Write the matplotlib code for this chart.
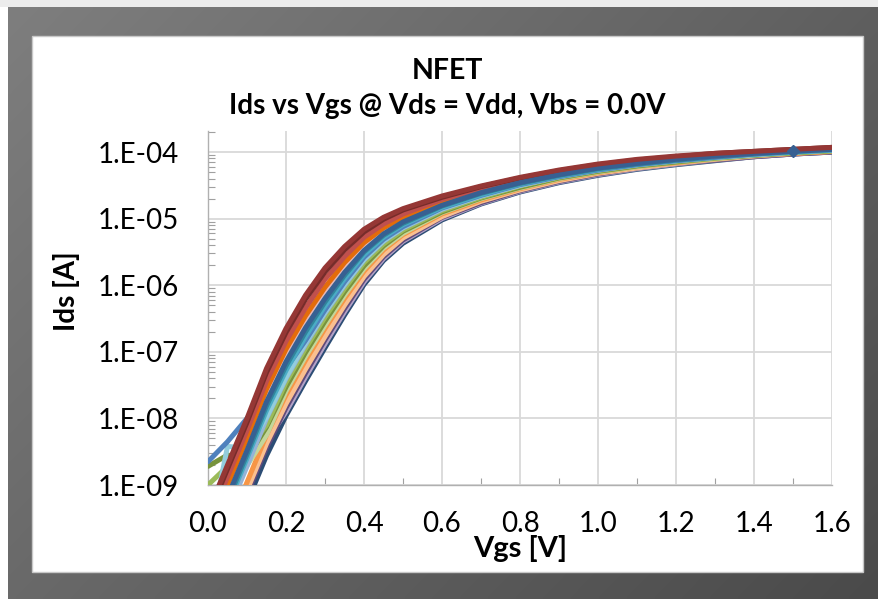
import numpy as np
import matplotlib
matplotlib.use("Agg")
import matplotlib.pyplot as plt
from matplotlib.ticker import LogLocator, FuncFormatter, MultipleLocator, NullFormatter
from matplotlib.patches import Rectangle
from matplotlib.colors import to_rgb

plt.rcParams['font.family'] = ['Lato', 'DejaVu Sans']

# ---------------- data (log10 of Ids [A]) ----------------
vgs = [0.0, 0.05, 0.1, 0.15, 0.2, 0.25, 0.3, 0.35, 0.4, 0.45, 0.5,
       0.6, 0.7, 0.8, 0.9, 1.0, 1.1, 1.2, 1.3, 1.4, 1.5, 1.6]

log_ids_darkblue = [-10.66, -9.96, -9.26, -8.56, -7.96, -7.44, -6.94, -6.45, -5.99, -5.63, -5.37,
                    -5.02, -4.78, -4.60, -4.46, -4.35, -4.26, -4.19, -4.13, -4.07, -4.03, -4.00]
log_ids_lavender = [-10.6, -9.6, -8.98, -8.35, -7.90, -7.38, -6.88, -6.40, -5.95, -5.60, -5.34,
                    -5.00, -4.77, -4.59, -4.45, -4.34, -4.25, -4.18, -4.12, -4.07, -4.03, -4.00]
log_ids_darkpurple = [-10.54, -9.84, -9.14, -8.44, -7.84, -7.32, -6.82, -6.35, -5.91, -5.57, -5.32,
                      -4.98, -4.76, -4.58, -4.44, -4.33, -4.24, -4.17, -4.12, -4.07, -4.03, -4.00]
log_ids_salmon = [-10.48, -9.78, -9.08, -8.38, -7.78, -7.26, -6.77, -6.30, -5.87, -5.54, -5.29,
                  -4.97, -4.74, -4.57, -4.43, -4.32, -4.24, -4.17, -4.11, -4.06, -4.02, -3.99]
log_ids_orange = [-10.36, -9.66, -8.96, -8.25, -7.65, -7.13, -6.65, -6.20, -5.79, -5.47, -5.24,
                  -4.93, -4.72, -4.55, -4.41, -4.31, -4.22, -4.16, -4.10, -4.05, -4.02, -3.99]
log_ids_lightgreen = [-9.6, -8.71, -8.71, -8.25, -7.59, -7.07, -6.60, -6.15, -5.75, -5.44, -5.22,
                      -4.91, -4.70, -4.54, -4.40, -4.30, -4.22, -4.15, -4.10, -4.05, -4.01, -3.98]
log_ids_olive = [-8.72, -8.55, -8.60, -8.13, -7.53, -7.01, -6.54, -6.10, -5.71, -5.41, -5.19,
                 -4.90, -4.69, -4.53, -4.39, -4.29, -4.21, -4.15, -4.09, -4.05, -4.01, -3.98]
log_ids_green = [-9.00, -8.72, -8.50, -8.10, -7.46, -6.95, -6.48, -6.05, -5.66, -5.38, -5.17,
                 -4.88, -4.68, -4.51, -4.38, -4.28, -4.20, -4.14, -4.09, -4.04, -4.01, -3.98]
log_ids_lightblue = [-10.12, -9.42, -8.72, -8.00, -7.40, -6.89, -6.42, -6.00, -5.62, -5.34, -5.14,
                     -4.86, -4.66, -4.50, -4.37, -4.27, -4.19, -4.13, -4.08, -4.04, -4.00, -3.97]
log_ids_lightaqua = [-9.9, -8.42, -8.45, -7.98, -7.38, -6.86, -6.40, -5.98, -5.61, -5.33, -5.13,
                     -4.85, -4.66, -4.50, -4.37, -4.27, -4.19, -4.13, -4.08, -4.04, -4.00, -3.97]
log_ids_blue = [-8.65, -8.35, -8.00, -7.62, -7.25, -6.83, -6.37, -5.95, -5.58, -5.31, -5.12,
                -4.84, -4.65, -4.49, -4.37, -4.27, -4.19, -4.13, -4.08, -4.03, -4.00, -3.97]
log_ids_aqua = [-10.0, -9.30, -8.60, -7.88, -7.28, -6.77, -6.31, -5.90, -5.54, -5.28, -5.09,
                -4.83, -4.64, -4.48, -4.36, -4.26, -4.18, -4.12, -4.07, -4.03, -4.00, -3.97]
log_ids_teal = [-9.94, -9.24, -8.54, -7.81, -7.21, -6.70, -6.25, -5.85, -5.50, -5.25, -5.07,
                -4.81, -4.62, -4.47, -4.35, -4.25, -4.18, -4.12, -4.07, -4.03, -3.99, -3.96]
log_ids_purple = [-9.82, -9.12, -8.42, -7.69, -7.09, -6.58, -6.14, -5.76, -5.44, -5.20, -5.03,
                  -4.78, -4.60, -4.45, -4.33, -4.23, -4.16, -4.10, -4.06, -4.02, -3.98, -3.95]
log_ids_pink = [-9.76, -9.06, -8.36, -7.63, -7.03, -6.52, -6.08, -5.71, -5.40, -5.17, -5.00,
                -4.77, -4.59, -4.44, -4.32, -4.22, -4.15, -4.10, -4.05, -4.01, -3.98, -3.95]
log_ids_darkorange = [-9.70, -9.00, -8.30, -7.56, -6.96, -6.46, -6.03, -5.66, -5.36, -5.14, -4.98,
                      -4.75, -4.57, -4.43, -4.31, -4.21, -4.14, -4.09, -4.05, -4.01, -3.98, -3.95]
log_ids_red = [-9.58, -8.88, -8.18, -7.44, -6.84, -6.34, -5.91, -5.57, -5.28, -5.08, -4.93,
               -4.71, -4.55, -4.41, -4.29, -4.20, -4.13, -4.08, -4.04, -4.00, -3.97, -3.94]
log_ids_maroon = [-9.46, -8.76, -8.06, -7.31, -6.71, -6.21, -5.80, -5.47, -5.20, -5.01, -4.87,
                  -4.68, -4.52, -4.39, -4.28, -4.19, -4.12, -4.07, -4.02, -3.99, -3.96, -3.93]
log_ids_midblue = [-9.88, -9.18, -8.48, -7.75, -7.15, -6.64, -6.20, -5.81, -5.48, -5.23, -5.05,
                   -4.80, -4.61, -4.46, -4.34, -4.24, -4.17, -4.11, -4.06, -4.02, -3.99, -3.96]
log_ids_darkred = [-9.40, -8.70, -8.00, -7.25, -6.65, -6.15, -5.74, -5.42, -5.16, -4.98, -4.85,
                   -4.66, -4.51, -4.38, -4.27, -4.18, -4.11, -4.06, -4.02, -3.99, -3.96, -3.93]

series = [
    (log_ids_darkblue, '#2C4D75'),
    (log_ids_lavender, '#B3A2C7'),
    (log_ids_darkpurple, '#604A7B'),
    (log_ids_salmon, '#FAC090'),
    (log_ids_orange, '#F79646'),
    (log_ids_lightgreen, '#C3D69B'),
    (log_ids_olive, '#77933C'),
    (log_ids_green, '#9BBB59'),
    (log_ids_lightblue, '#95B3D7'),
    (log_ids_lightaqua, '#93CDDD'),
    (log_ids_blue, '#4F81BD'),
    (log_ids_aqua, '#4BACC6'),
    (log_ids_teal, '#31859C'),
    (log_ids_purple, '#8064A2'),
    (log_ids_pink, '#E6B9B8'),
    (log_ids_darkorange, '#E46C0A'),
    (log_ids_red, '#C0504D'),
    (log_ids_maroon, '#772C2A'),
    (log_ids_midblue, '#376092'),
    (log_ids_darkred, '#953735'),
]

y_ticks = [1e-9, 1e-8, 1e-7, 1e-6, 1e-5, 1e-4]
x_ticks = [0.0, 0.2, 0.4, 0.6, 0.8, 1.0, 1.2, 1.4, 1.6]

W, H = 879, 599
fig = plt.figure(figsize=(W / 100, H / 100), dpi=100)
fig.patch.set_facecolor('white')

# ---------------- background frame ----------------
bg = fig.add_axes([0, 0, 1, 1], zorder=-10)
bg.axis('off')
c1 = np.array(to_rgb('#7e7e7e'))
c2 = np.array(to_rgb('#4a4a4a'))
gx, gy = np.meshgrid(np.linspace(0, 1, 200), np.linspace(0, 1, 140))
t = (gx * 0.6 + gy * 0.4)[..., None]
grad = c1 * (1 - t) + c2 * t
bg.imshow(grad, extent=(8, W, H, 7), aspect='auto', interpolation='bilinear')
bg.add_patch(Rectangle((0, 0), W, 7, facecolor='#ececec', edgecolor='none'))
bg.add_patch(Rectangle((32, 36), 831, 536, facecolor='white', edgecolor='#c8c8c8', lw=1.0))
bg.set_xlim(0, W)
bg.set_ylim(H, 0)

# ---------------- plot area ----------------
ax_l, ax_r, ax_t, ax_b = 208, 832, 131, 485
ax = fig.add_axes([ax_l / W, 1 - ax_b / H, (ax_r - ax_l) / W, (ax_b - ax_t) / H])
ax.set_facecolor('none')
ax.set_yscale('log')
ax.set_xlim(0, 1.6)
ax.set_ylim(1e-9, 2.07e-4)

x = np.array(vgs)
for vals, col in series:
    ax.plot(x, 10 ** np.array(vals), color=col, lw=3.6, solid_joinstyle='round',
            solid_capstyle='round', zorder=3)
# diamond marker on one series at 1.5 V
ax.plot([vgs[20]], [10 ** log_ids_midblue[20]], marker='D', ms=6.5, color='#376092',
        ls='none', zorder=4)

ax.set_xticks(x_ticks)
ax.xaxis.set_minor_locator(MultipleLocator(0.1))
ax.set_yticks(y_ticks)
ax.yaxis.set_minor_locator(LogLocator(base=10, subs=np.arange(2, 10) * 1.0, numticks=20))
ax.yaxis.set_minor_formatter(NullFormatter())
ax.yaxis.set_major_formatter(FuncFormatter(lambda v, p: "1.E-%02d" % int(round(-np.log10(v)))))
ax.xaxis.set_major_formatter(FuncFormatter(lambda v, p: "%.1f" % v))

ax.grid(True, which='major', color='#d9d9d9', lw=1.3, zorder=0)
ax.set_axisbelow(True)
for s in ['top', 'right']:
    ax.spines[s].set_visible(False)
for s in ['left', 'bottom']:
    ax.spines[s].set_color('#b0b0b0')
    ax.spines[s].set_linewidth(1.0)

ax.tick_params(axis='y', which='major', length=0, pad=21, labelsize=20, labelcolor='black')
ax.tick_params(axis='x', which='major', length=0, pad=19, labelsize=20, labelcolor='black')
ax.tick_params(axis='both', which='minor', direction='in', length=5, width=0.8, color='#a0a0a0')

# ---------------- texts ----------------
fig.text(447.5 / W, 1 - 71 / H, "NFET", ha='center', va='center', fontsize=20.5, fontweight='bold')
fig.text(447.5 / W, 1 - 106 / H, "Ids vs Vgs @ Vds = Vdd, Vbs = 0.0V", ha='center', va='center',
         fontsize=20, fontweight='bold')
fig.text(67 / W, 1 - 291 / H, "Ids [A]", ha='center', va='center', rotation=90,
         fontsize=20, fontweight='bold')
fig.text(520 / W, 1 - 549 / H, "Vgs [V]", ha='center', va='center', fontsize=21, fontweight='bold')

fig.savefig("out.png", dpi=100)
